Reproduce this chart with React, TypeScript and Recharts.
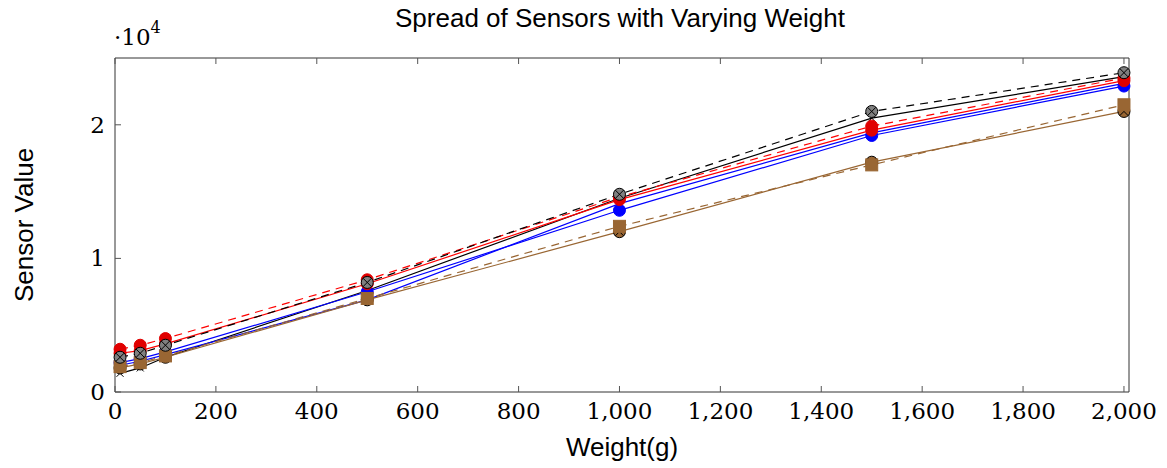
import { LineChart, Line, XAxis, YAxis } from "recharts";

// readings per applied weight (grams)
const weights = [10, 50, 100, 500, 1000, 1500, 2000];
const blackSolid = [1400, 1800, 2600, 7600, 14500, 20500, 23600];
const blueLower = [2000, 2300, 2800, 6900, 14100, 19400, 23100];
const blueSolid = [2200, 2500, 3000, 7500, 13600, 19200, 22900];
const redSolid = [2900, 3100, 3600, 8100, 14400, 19600, 23300];
const redDashed = [3200, 3500, 4000, 8400, 14600, 19900, 23500];
const brownSolid = [1800, 2100, 2600, 6900, 12000, 17200, 21000];
const brownDashed = [1900, 2200, 2700, 7000, 12400, 17000, 21500];
const blackDashed = [2600, 2900, 3500, 8200, 14800, 21000, 23900];

const xTicks = [0, 200, 400, 600, 800, 1000, 1200, 1400, 1600, 1800, 2000];
const yTicks = [0, 10000, 20000];

const RED = "#ff0000";
const BLUE = "#0000ff";
const BROWN = "#996633";
const SERIF = "'DejaVu Serif', serif";
const SANS = "'Liberation Sans', Arial, sans-serif";

const data = weights.map((w, i) => ({
  w,
  blackSolid: blackSolid[i],
  blueLower: blueLower[i],
  blueSolid: blueSolid[i],
  redSolid: redSolid[i],
  redDashed: redDashed[i],
  brownSolid: brownSolid[i],
  brownDashed: brownDashed[i],
  blackDashed: blackDashed[i],
}));

const circleDot = (fill: string) => (p: any) =>
  <circle key={p.index} cx={p.cx} cy={p.cy} r={6} fill={fill} stroke={fill} strokeWidth={1} />;

const squareDot = (fill: string) => (p: any) =>
  <rect key={p.index} x={p.cx - 6} y={p.cy - 6} width={12} height={12} fill={fill} stroke={fill} />;

const otimesDot = (fill: string) => (p: any) => {
  const d = 4.2;
  return <g key={p.index}>
    <circle cx={p.cx} cy={p.cy} r={6} fill={fill} stroke="#000" strokeWidth={1} />
    <line x1={p.cx - d} y1={p.cy - d} x2={p.cx + d} y2={p.cy + d} stroke="#000" strokeWidth={1} />
    <line x1={p.cx - d} y1={p.cy + d} x2={p.cx + d} y2={p.cy - d} stroke="#000" strokeWidth={1} />
  </g>;
};

const crossDot = (p: any) => {
  const d = 3.5;
  return <g key={p.index}>
    <line x1={p.cx - d} y1={p.cy - d} x2={p.cx + d} y2={p.cy + d} stroke="#000" strokeWidth={1} />
    <line x1={p.cx - d} y1={p.cy + d} x2={p.cx + d} y2={p.cy - d} stroke="#000" strokeWidth={1} />
  </g>;
};

const BottomTick = (p: any) => <g>
  <line x1={p.x} y1={p.y - 10} x2={p.x} y2={p.y - 16} stroke="#555" />
  <text x={p.x} y={p.y + 17} textAnchor="middle" fontFamily={SERIF} fontSize={23} fill="#000">
    {Number(p.payload.value).toLocaleString("en-US")}
  </text>
</g>;

const LeftTick = (p: any) => <g>
  <line x1={p.x + 10} y1={p.y} x2={p.x + 16} y2={p.y} stroke="#555" />
  <text x={p.x} y={p.y + 8} textAnchor="end" fontFamily={SERIF} fontSize={23} fill="#000">
    {p.payload.value / 10000}
  </text>
</g>;

const TopTick = (p: any) => <line x1={p.x} y1={p.y} x2={p.x} y2={p.y + 6} stroke="#555" />;
const RightTick = (p: any) => <line x1={p.x} y1={p.y} x2={p.x - 6} y2={p.y} stroke="#555" />;

const series = [
  { key: "blackSolid", color: "#000", dash: undefined, dot: crossDot },
  { key: "blueLower", color: BLUE, dash: undefined, dot: false },
  { key: "blueSolid", color: BLUE, dash: undefined, dot: circleDot(BLUE) },
  { key: "redSolid", color: RED, dash: undefined, dot: circleDot("#e00000") },
  { key: "redDashed", color: RED, dash: "8 6", dot: circleDot("#e00000") },
  { key: "brownSolid", color: BROWN, dash: undefined, dot: otimesDot(BROWN) },
  { key: "brownDashed", color: BROWN, dash: "8 6", dot: squareDot(BROWN) },
  { key: "blackDashed", color: "#000", dash: "8 6", dot: otimesDot("#808080") },
];

export default function App() {
  return (
    <div style={{ position: "absolute", left: 0, top: 0, width: 1167, height: 468, background: "#fff" }}>
      <LineChart width={1167} height={468} data={data} margin={{ top: 57, right: 37, left: 0, bottom: 0 }}>
        <XAxis xAxisId="b" dataKey="w" type="number" domain={[0, 2010]} ticks={xTicks} height={76}
          axisLine={{ stroke: "#333" }} tickLine={false} tickSize={0} tickMargin={10} tick={BottomTick} interval={0} />
        <XAxis xAxisId="t" orientation="top" dataKey="w" type="number" domain={[0, 2010]} ticks={xTicks} height={1}
          axisLine={{ stroke: "#333" }} tickLine={false} tickSize={0} tickMargin={0} tick={TopTick} interval={0} />
        <YAxis yAxisId="l" type="number" domain={[0, 25000]} ticks={yTicks} width={115}
          axisLine={{ stroke: "#333" }} tickLine={false} tickSize={0} tickMargin={10} tick={LeftTick} interval={0} />
        <YAxis yAxisId="r" orientation="right" type="number" domain={[0, 25000]} ticks={yTicks} width={1}
          axisLine={{ stroke: "#333" }} tickLine={false} tickSize={0} tickMargin={0} tick={RightTick} interval={0} />
        {series.map(s => (
          <Line key={s.key} xAxisId="b" yAxisId="l" dataKey={s.key} stroke={s.color} strokeWidth={1.2}
            strokeDasharray={s.dash} dot={s.dot as any} activeDot={false} isAnimationActive={false} />
        ))}
      </LineChart>
      <div style={{ position: "absolute", left: 0, width: 1240, top: 3, textAlign: "center", fontFamily: SANS, fontSize: 26 }}>
        Spread of Sensors with Varying Weight
      </div>
      <div style={{ position: "absolute", left: 0, width: 1244, top: 432, textAlign: "center", fontFamily: SANS, fontSize: 26 }}>
        Weight(g)
      </div>
      <div style={{ position: "absolute", left: 24, top: 225, fontFamily: SANS, fontSize: 26, whiteSpace: "nowrap",
        transform: "translate(-50%, -50%) rotate(-90deg)" }}>
        Sensor Value
      </div>
      <div style={{ position: "absolute", left: 114, top: 24, fontFamily: SERIF, fontSize: 23, whiteSpace: "nowrap" }}>
        ·10<sup style={{ fontSize: 16, verticalAlign: "top", position: "relative", top: -6 }}>4</sup>
      </div>
    </div>
  );
}
